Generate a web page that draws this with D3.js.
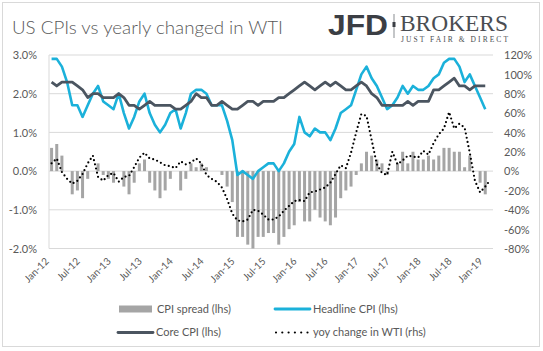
<!DOCTYPE html>
<html>
<head>
<meta charset="utf-8">
<script src="https://cdn.jsdelivr.net/npm/d3@7"></script>
<style>
  body { margin: 0; background: #fff; }
  text { font-family: Lato, "Open Sans", sans-serif; fill: #595959; }
</style>
</head>
<body>
<svg id="svg"></svg>
<script>
/* DATA */

// monthly observations, Jan-12 .. Feb-19 (CPI series stop at Jan-19)
let startMonth = new Date(2012, 0, 1);
let endMonth = new Date(2019, 2, 1);

let tickLabels = ["Jan-12", "Jul-12", "Jan-13", "Jul-13", "Jan-14", "Jul-14", "Jan-15", "Jul-15",
                  "Jan-16", "Jul-16", "Jan-17", "Jul-17", "Jan-18", "Jul-18", "Jan-19"];

let leftTicks = [-2, -1, 0, 1, 2, 3];
let rightTicks = [-80, -60, -40, -20, 0, 20, 40, 60, 80, 100, 120];

let headline = [
  2.9, 2.9, 2.7, 2.3, 1.7, 1.7, 1.4, 1.7, 2.0, 2.2, 1.8, 1.7,
  1.6, 2.0, 1.5, 1.1, 1.4, 1.8, 2.0, 1.5, 1.2, 1.0, 1.2, 1.5,
  1.6, 1.1, 1.5, 2.0, 2.1, 2.1, 2.0, 1.7, 1.7, 1.7, 1.3, 0.8,
  -0.1, 0.0, -0.1, -0.2, 0.0, 0.1, 0.2, 0.2, 0.0, 0.2, 0.5, 0.7,
  1.4, 1.0, 0.9, 1.1, 1.0, 1.0, 0.8, 1.1, 1.5, 1.6, 1.7, 2.1,
  2.5, 2.7, 2.4, 2.2, 1.9, 1.6, 1.7, 1.9, 2.2, 2.0, 2.2, 2.1,
  2.1, 2.2, 2.4, 2.5, 2.8, 2.9, 2.9, 2.7, 2.3, 2.5, 2.2, 1.9,
  1.6
];

let core = [
  2.3, 2.2, 2.3, 2.3, 2.3, 2.2, 2.1, 1.9, 2.0, 2.0, 1.9, 1.9,
  1.9, 2.0, 1.9, 1.7, 1.7, 1.6, 1.7, 1.8, 1.7, 1.7, 1.7, 1.7,
  1.6, 1.6, 1.7, 1.8, 2.0, 1.9, 1.9, 1.7, 1.7, 1.8, 1.7, 1.6,
  1.6, 1.7, 1.8, 1.8, 1.7, 1.8, 1.8, 1.8, 1.9, 1.9, 2.0, 2.1,
  2.2, 2.3, 2.2, 2.1, 2.2, 2.3, 2.2, 2.3, 2.2, 2.1, 2.1, 2.2,
  2.3, 2.2, 2.0, 1.9, 1.7, 1.7, 1.7, 1.7, 1.7, 1.8, 1.7, 1.8,
  1.8, 1.8, 2.1, 2.1, 2.2, 2.3, 2.4, 2.2, 2.2, 2.1, 2.2, 2.2,
  2.2
];

let spread = [
  0.6, 0.7, 0.4, 0.0, -0.6, -0.5, -0.7, -0.2, 0.0, 0.2, -0.1, -0.2,
  -0.3, 0.0, -0.4, -0.6, -0.3, 0.2, 0.3, -0.3, -0.5, -0.7, -0.5, -0.2,
  0.0, -0.5, -0.2, 0.2, 0.1, 0.2, 0.1, 0.0, 0.0, -0.1, -0.4, -0.8,
  -1.7, -1.7, -1.9, -2.0, -1.7, -1.7, -1.6, -1.6, -1.9, -1.7, -1.5, -1.4,
  -0.8, -1.3, -1.3, -1.0, -1.2, -1.3, -1.4, -1.2, -0.7, -0.5, -0.4, -0.1,
  0.2, 0.5, 0.4, 0.3, 0.2, -0.1, 0.0, 0.2, 0.5, 0.2, 0.5, 0.3,
  0.3, 0.4, 0.3, 0.4, 0.6, 0.6, 0.5, 0.5, 0.1, 0.4, 0.0, -0.3,
  -0.6
];

// yoy change in WTI, % (right axis)
let wti = [
  8, 13, -1, -8, -13, -10, -3, 8, 16, -6, -10, -4,
  -2, -11, -6, -5, 4, 14, 19, 13, 12, 9, 6, 5,
  3, 10, 7, 9, 13, 8, -4, -8, -11, -17, -29, -44,
  -51, -52, -50, -40, -41, -45, -50, -50, -47, -41, -36, -31,
  -30, -31, -22, -21, -19, -17, -12, -3, 6, 3, 19, 40,
  59, 57, 32, 7, -2, -4, 20, 7, 11, 16, 15, 14,
  21, 17, 29, 38, 44, 61, 44, 49, 45, 19, -10, -22,
  -16, -9
];

/* VISUALIZATION CODE */

function createVisualization() {
  let w = 543, h = 351;
  let svg = d3.select("#svg")
              .attr("width", w)
              .attr("height", h);

  let months = d3.timeMonths(startMonth, endMonth);

  let plot = { left: 49, right: 493, top: 55, bottom: 248.5 };

  let x = d3.scaleBand()
            .domain(months)
            .range([plot.left, plot.right])
            .paddingInner(0.42)
            .paddingOuter(0.21);
  let cx = d => x(d) + x.bandwidth() / 2;

  let yL = d3.scaleLinear().domain([-2, 3]).range([plot.bottom, plot.top]);
  let yR = d3.scaleLinear().domain([-80, 120]).range([plot.bottom, plot.top]);

  // outer border
  svg.append("rect")
     .attr("x", 2.5).attr("y", 2.5)
     .attr("width", 537).attr("height", 344)
     .attr("fill", "none")
     .attr("stroke", "#d9d9d9");

  // title
  svg.append("text")
     .attr("x", 12).attr("y", 34)
     .style("font-size", "18.5px")
     .style("font-weight", 300)
     .attr("textLength", 271)
     .attr("lengthAdjust", "spacingAndGlyphs")
     .text("US CPIs vs yearly changed in WTI");

  // logo
  let logo = svg.append("g");
  logo.append("text")
      .attr("x", 328).attr("y", 35)
      .style("font-family", "'Liberation Sans', Arial, sans-serif")
      .style("font-weight", "bold")
      .style("font-size", "30px")
      .style("fill", "#3b3e44")
      .attr("textLength", 60)
      .attr("lengthAdjust", "spacingAndGlyphs")
      .text("JFD");
  logo.append("rect")
      .attr("x", 393.5).attr("y", 14).attr("width", 1).attr("height", 24)
      .attr("fill", "#8a8d92");
  logo.append("rect")
      .attr("x", 392.5).attr("y", 22).attr("width", 3).attr("height", 5)
      .attr("fill", "#3b3e44");
  logo.append("text")
      .attr("x", 400).attr("y", 31)
      .style("font-family", "'Liberation Serif', 'DejaVu Serif', serif")
      .style("font-size", "23px")
      .style("fill", "#4a4d52")
      .attr("textLength", 108)
      .attr("lengthAdjust", "spacingAndGlyphs")
      .text("BROKERS");
  logo.append("text")
      .attr("x", 401).attr("y", 41.5)
      .style("font-family", "'Liberation Serif', 'DejaVu Serif', serif")
      .style("font-size", "7.5px")
      .style("fill", "#4a4d52")
      .attr("textLength", 107)
      .attr("lengthAdjust", "spacing")
      .text("JUST FAIR & DIRECT");

  // gridlines
  svg.append("g")
     .selectAll("line")
     .data(leftTicks)
     .enter()
     .append("line")
     .attr("x1", plot.left).attr("x2", plot.right)
     .attr("y1", d => yL(d)).attr("y2", d => yL(d))
     .attr("stroke", "#d9d9d9")
     .attr("stroke-width", 1);

  svg.append("line")
     .attr("x1", plot.left).attr("x2", plot.left)
     .attr("y1", plot.top).attr("y2", plot.bottom)
     .attr("stroke", "#d9d9d9");

  // axes
  let left = svg.append("g")
                .attr("transform", `translate(${plot.left - 12},0)`)
                .call(d3.axisLeft(yL).tickValues(leftTicks).tickSize(0)
                        .tickFormat(d => d.toFixed(1) + "%"));
  let right = svg.append("g")
                 .attr("transform", `translate(${plot.right + 11},0)`)
                 .call(d3.axisRight(yR).tickValues(rightTicks).tickSize(0)
                         .tickFormat(d => d + "%"));
  [left, right].forEach(g => {
    g.select(".domain").remove();
    g.selectAll("text").attr("x", null).attr("dy", "0.35em")
     .style("font-size", "11px").style("font-family", "Lato, sans-serif").attr("fill", "#595959");
  });

  // rotated month labels
  let tickMonths = tickLabels.map(s => d3.timeParse("%b-%y")(s));
  svg.append("g")
     .selectAll("text")
     .data(tickMonths)
     .enter()
     .append("text")
     .attr("transform", d => `translate(${cx(d) - 2},${262}) rotate(-45)`)
     .attr("text-anchor", "end")
     .style("font-size", "10px")
     .text((d, i) => tickLabels[i]);

  // CPI spread bars
  svg.append("g")
     .selectAll("rect")
     .data(spread)
     .enter()
     .append("rect")
     .attr("x", (d, i) => x(months[i]))
     .attr("width", x.bandwidth())
     .attr("y", d => yL(Math.max(0, d)))
     .attr("height", d => Math.abs(yL(d) - yL(0)))
     .attr("fill", "#a5a5a5");

  let lineL = d3.line().x((d, i) => cx(months[i])).y(d => yL(d));
  let lineR = d3.line().x((d, i) => cx(months[i])).y(d => yR(d));

  svg.append("path")
     .datum(headline)
     .attr("d", lineL)
     .attr("fill", "none")
     .attr("stroke", "#1bb1da")
     .attr("stroke-width", 2.6)
     .attr("stroke-linejoin", "round");

  svg.append("path")
     .datum(core)
     .attr("d", lineL)
     .attr("fill", "none")
     .attr("stroke", "#4b5560")
     .attr("stroke-width", 2.8)
     .attr("stroke-linejoin", "round");

  svg.append("path")
     .datum(wti)
     .attr("d", lineR)
     .attr("fill", "none")
     .attr("stroke", "#000")
     .attr("stroke-width", 2.2)
     .attr("stroke-linecap", "round")
     .attr("stroke-dasharray", "0,4.3");

  // legend
  let legend = svg.append("g");
  let items = [
    { name: "CPI spread (lhs)", kind: "bar", x: 119, y: 309 },
    { name: "Headline CPI (lhs)", kind: "head", x: 275, y: 309 },
    { name: "Core CPI (lhs)", kind: "core", x: 118, y: 332.5 },
    { name: "yoy change in WTI (rhs)", kind: "wti", x: 275, y: 332.5 }
  ];
  items.forEach(it => {
    if (it.kind == "bar") {
      legend.append("rect")
            .attr("x", it.x).attr("y", it.y - 3.5)
            .attr("width", 33).attr("height", 7)
            .attr("fill", "#a5a5a5");
    } else {
      legend.append("line")
            .attr("x1", it.x + (it.kind == "wti" ? 1 : 0)).attr("x2", it.x + 35)
            .attr("y1", it.y).attr("y2", it.y)
            .attr("stroke", it.kind == "head" ? "#1bb1da" : it.kind == "core" ? "#4b5560" : "#000")
            .attr("stroke-width", it.kind == "wti" ? 2.2 : 2.8)
            .attr("stroke-linecap", "round")
            .attr("stroke-dasharray", it.kind == "wti" ? "0,6.3" : null);
    }
    legend.append("text")
          .attr("x", it.x + 38).attr("y", it.y)
          .attr("dy", "0.35em")
          .style("font-size", "11px")
          .text(it.name);
  });
}

window.onload = function() {
  createVisualization();
};
</script>
</body>
</html>
